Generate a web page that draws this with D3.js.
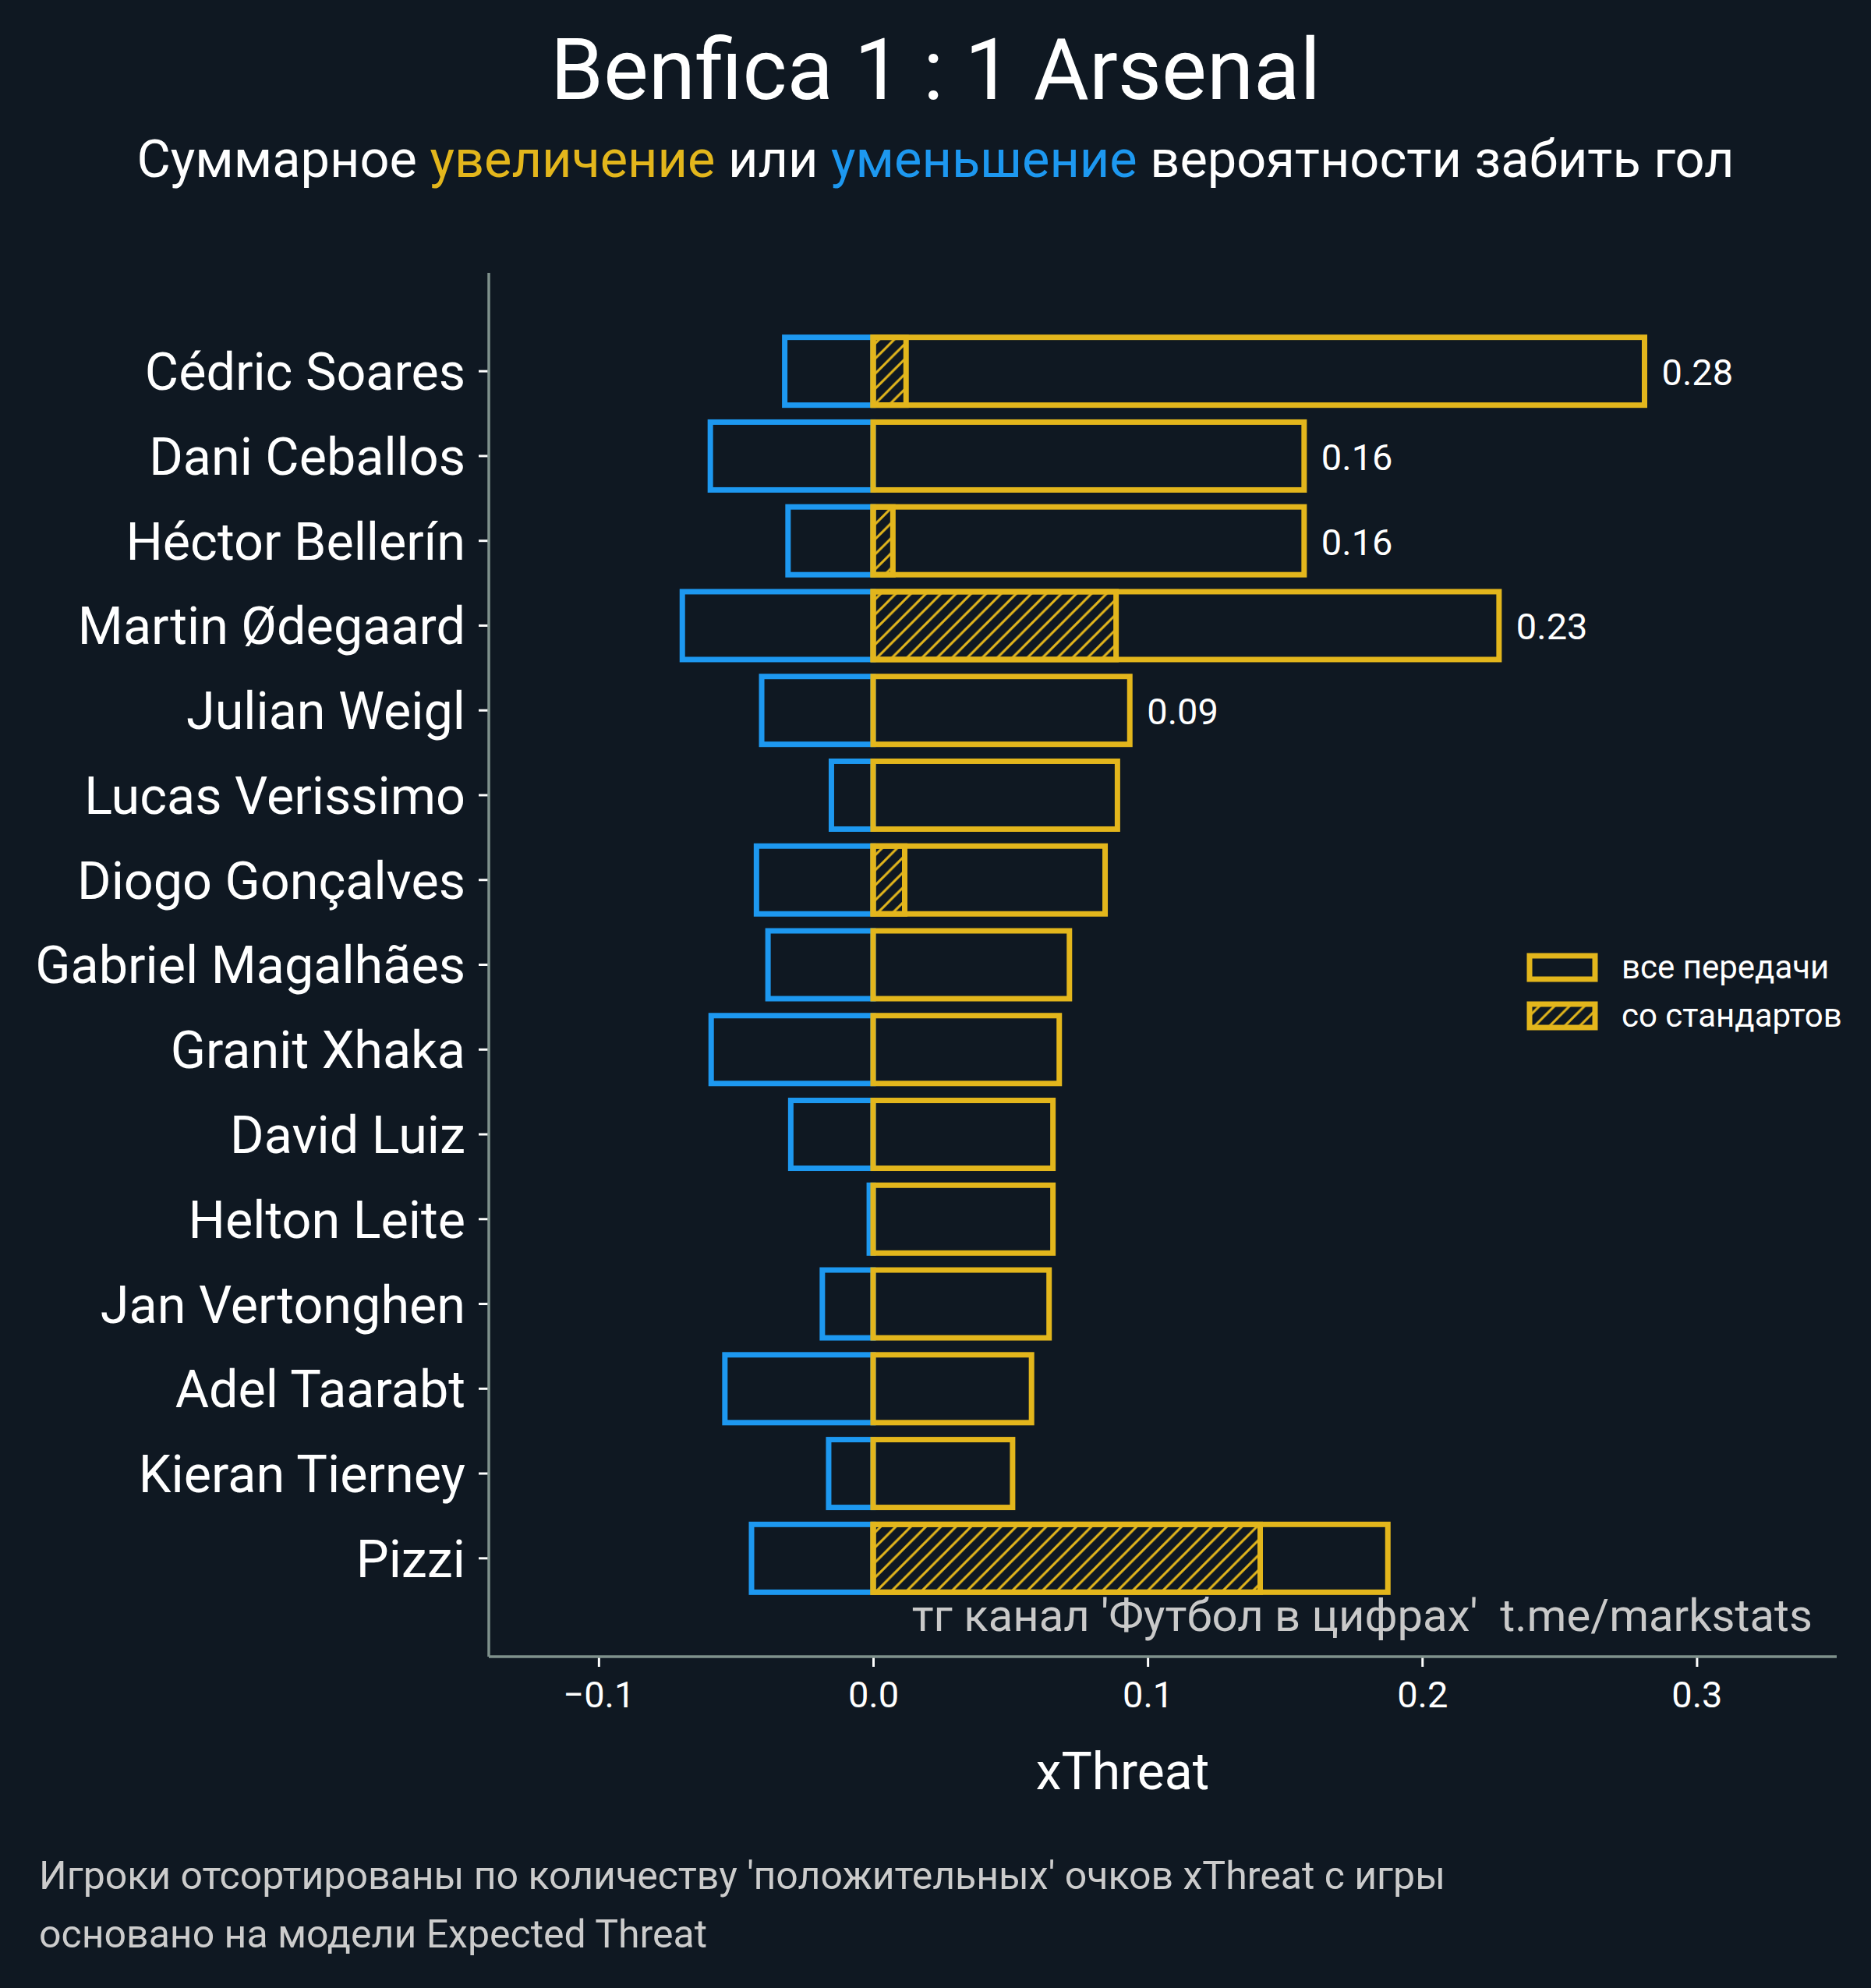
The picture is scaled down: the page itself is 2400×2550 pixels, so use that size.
<!DOCTYPE html>
<html>
<head>
<meta charset="utf-8">
<script src="https://cdn.jsdelivr.net/npm/d3@7"></script>
<style>
  html, body { margin: 0; padding: 0; background: #0f1822; }
  svg { display: block; font-family: Roboto, "Noto Sans", sans-serif; }
</style>
</head>
<body>
<svg id="chart"></svg>
<script>
const players = ["Cédric Soares", "Dani Ceballos", "Héctor Bellerín", "Martin Ødegaard", "Julian Weigl",
  "Lucas Verissimo", "Diogo Gonçalves", "Gabriel Magalhães", "Granit Xhaka", "David Luiz",
  "Helton Leite", "Jan Vertonghen", "Adel Taarabt", "Kieran Tierney", "Pizzi"]
// суммарный положительный xThreat (все передачи)
const positive = [0.281, 0.157, 0.157, 0.228, 0.0935, 0.089, 0.0845, 0.0715, 0.0678, 0.0655,
  0.0655, 0.0641, 0.0577, 0.0508, 0.1875]
// отрицательный xThreat
const negative = [-0.0322, -0.0593, -0.0310, -0.0695, -0.0406, -0.0152, -0.0425, -0.0383, -0.0590, -0.0300,
  -0.0014, -0.0185, -0.0540, -0.0162, -0.0443]
// со стандартов
const setPieces = [0.0120, 0, 0.0072, 0.0885, 0, 0, 0.0115, 0, 0, 0, 0, 0, 0, 0, 0.141]
const valueLabels = ["0.28", "0.16", "0.16", "0.23", "0.09"]
const xTicks = [-0.1, 0.0, 0.1, 0.2, 0.3]

const W = 2400, H = 2550
const FONT = "Roboto, 'Noto Sans', sans-serif"
const BG = "#0f1822", YELLOW = "#e3b61c", BLUE = "#1d98f0", SPINE = "#7f918c"
const plotLeft = 627, plotRight = 2356, plotTop = 350, plotBottom = 2125

const svg = d3.select("#chart").attr("width", W).attr("height", H)
svg.append("rect").attr("width", W).attr("height", H).attr("fill", BG)

const defs = svg.append("defs")
const hatch = defs.append("pattern")
  .attr("id", "hatch")
  .attr("patternUnits", "userSpaceOnUse")
  .attr("width", 19.3).attr("height", 19.3)
hatch.append("path")
  .attr("d", "M0,19.3 L19.3,0 M-4.8,4.8 L4.8,-4.8 M14.5,24.1 L24.1,14.5")
  .attr("stroke", YELLOW).attr("stroke-width", 3)

const x = d3.scaleLinear().domain([-0.14, 0.351]).range([plotLeft, plotRight])
const y = d3.scaleBand().domain(players).range([plotTop, plotBottom])
  .paddingInner(0.2).paddingOuter(0.76)

const data = players.map((p, i) => ({ name: p, pos: positive[i], neg: negative[i], sp: setPieces[i], i }))

// axes
const yAxis = svg.append("g")
  .attr("transform", `translate(${plotLeft},0)`)
  .call(d3.axisLeft(y).tickSize(13).tickPadding(17).tickSizeOuter(0))
  .attr("font-family", FONT)
yAxis.select(".domain").remove()
yAxis.selectAll(".tick line").attr("stroke", "#ffffff").attr("stroke-width", 3)
yAxis.selectAll(".tick text").attr("fill", "#ffffff").attr("font-size", 66.5).attr("dy", "0.36em")

const xAxis = svg.append("g")
  .attr("transform", `translate(0,${plotBottom})`)
  .call(d3.axisBottom(x).tickValues(xTicks).tickFormat(d3.format(".1f")).tickSize(13).tickPadding(19).tickSizeOuter(0))
  .attr("font-family", FONT)
xAxis.select(".domain").remove()
xAxis.selectAll(".tick line").attr("stroke", "#ffffff").attr("stroke-width", 3)
xAxis.selectAll(".tick text").attr("fill", "#ffffff").attr("font-size", 47)

svg.append("line").attr("x1", plotLeft).attr("x2", plotLeft).attr("y1", plotTop).attr("y2", plotBottom)
  .attr("stroke", SPINE).attr("stroke-width", 3.5)
svg.append("line").attr("x1", plotLeft).attr("x2", plotRight).attr("y1", plotBottom).attr("y2", plotBottom)
  .attr("stroke", SPINE).attr("stroke-width", 3.5)

// bars
const bars = svg.append("g")
bars.selectAll(".neg").data(data).join("rect")
  .attr("x", d => x(d.neg)).attr("width", d => x(0) - x(d.neg))
  .attr("y", d => y(d.name)).attr("height", y.bandwidth())
  .attr("fill", "none").attr("stroke", BLUE).attr("stroke-width", 7)

bars.selectAll(".pos").data(data).join("rect")
  .attr("x", x(0)).attr("width", d => x(d.pos) - x(0))
  .attr("y", d => y(d.name)).attr("height", y.bandwidth())
  .attr("fill", "none").attr("stroke", YELLOW).attr("stroke-width", 7)

bars.selectAll(".sp").data(data.filter(d => d.sp > 0)).join("rect")
  .attr("x", x(0)).attr("width", d => x(d.sp) - x(0))
  .attr("y", d => y(d.name)).attr("height", y.bandwidth())
  .attr("fill", "url(#hatch)").attr("stroke", YELLOW).attr("stroke-width", 7)

svg.append("g").selectAll("text").data(data.slice(0, valueLabels.length)).join("text")
  .attr("x", d => x(d.pos) + 22)
  .attr("y", d => y(d.name) + y.bandwidth() / 2)
  .attr("dy", "0.38em")
  .attr("fill", "#ffffff").attr("font-size", 47)
  .text((d, i) => valueLabels[i])

// legend
const legend = svg.append("g").attr("transform", "translate(1962,1226)")
const legendItems = [["все передачи", "none"], ["со стандартов", "url(#hatch)"]]
legendItems.forEach(([label, fill], i) => {
  legend.append("rect").attr("x", 0).attr("y", i * 62).attr("width", 84).attr("height", 30)
    .attr("fill", fill).attr("stroke", YELLOW).attr("stroke-width", 7)
  legend.append("text").attr("x", 118).attr("y", i * 62 + 29)
    .attr("fill", "#ffffff").attr("font-size", 42).text(label)
})

// titles
svg.append("text").attr("x", 1200).attr("y", 127).attr("text-anchor", "middle")
  .attr("fill", "#ffffff").attr("font-size", 109).text("Benfica 1 : 1 Arsenal")

const sub = svg.append("text").attr("x", 1200).attr("y", 227).attr("text-anchor", "middle")
  .attr("fill", "#ffffff").attr("font-size", 66.7)
sub.append("tspan").text("Суммарное ")
sub.append("tspan").attr("fill", YELLOW).text("увеличение")
sub.append("tspan").text(" или ")
sub.append("tspan").attr("fill", BLUE).text("уменьшение")
sub.append("tspan").text(" вероятности забить гол")

svg.append("text").attr("x", 1440).attr("y", 2295).attr("text-anchor", "middle")
  .attr("fill", "#ffffff").attr("font-size", 66).text("xThreat")

svg.append("text").attr("x", 2325).attr("y", 2092).attr("text-anchor", "end")
  .attr("fill", "#c9c9c9").attr("font-size", 58)
  .style("white-space", "pre")
  .text("тг канал 'Футбол в цифрах'  t.me/markstats")

const notes = ["Игроки отсортированы по количеству 'положительных' очков xThreat с игры",
  "основано на модели Expected Threat"]
svg.append("g").selectAll("text").data(notes).join("text")
  .attr("x", 50).attr("y", (d, i) => 2423 + i * 75)
  .attr("fill", "#cccccc").attr("font-size", 50)
  .text(d => d)
</script>
</body>
</html>
